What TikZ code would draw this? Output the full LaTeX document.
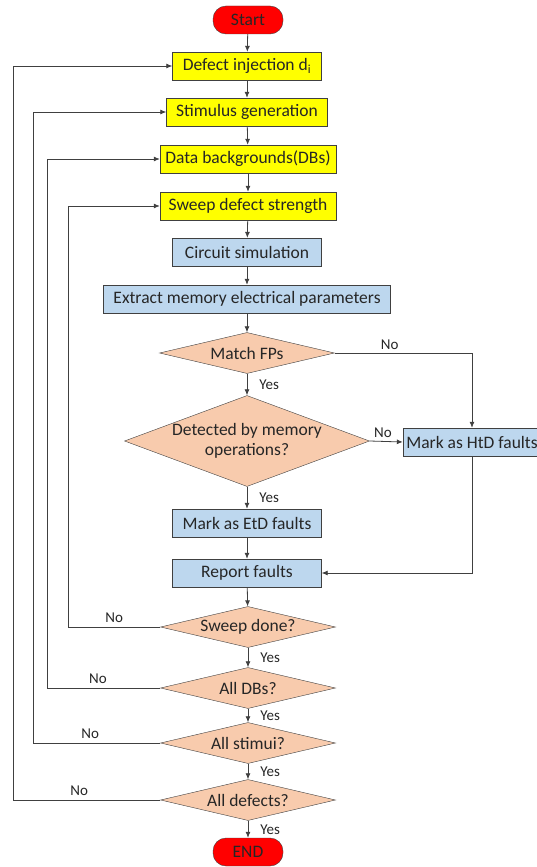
\documentclass[tikz,border=0pt]{standalone}
\usepackage{fontspec}
\setmainfont{Carlito}
\usetikzlibrary{shapes.geometric,arrows.meta}

\definecolor{termred}{HTML}{FF0000}
\definecolor{stepyellow}{HTML}{FFFF00}
\definecolor{stepblue}{HTML}{BDD7EE}
\definecolor{askorange}{HTML}{F8CBAD}
\definecolor{rim}{HTML}{404040}

\begin{document}
\begin{tikzpicture}
[
    x=1pt, y=-1pt,
    font=\fontsize{17.5}{20}\selectfont,
    every node/.style={align=center,inner sep=0pt,text=black!85},
    term/.style={draw=rim,fill=termred,rounded corners=13pt,minimum width=70pt,minimum height=28pt},
    setup/.style={draw=rim,fill=stepyellow,minimum height=28pt},
    work/.style={draw=rim,fill=stepblue,minimum height=28pt},
    ask/.style={draw=rim,fill=askorange,diamond,aspect=4.27,minimum width=175pt,minimum height=41pt},
    flow/.style={draw=rim,thick,-{Latex[length=6pt,width=5pt]}},
    tag/.style={font=\fontsize{15}{17}\selectfont}
  ]
  \useasboundingbox (0,0) rectangle (537,867);

  % the four set-up steps
  \node[term]  (start)  at (248,20)  {Start};
  \node[setup,minimum width=149pt] (defect) at (247,66)  {Defect injection d\textsubscript{i}};
  \node[setup,minimum width=161pt] (stim)   at (247,112) {Stimulus generation};
  \node[setup,minimum width=176pt] (dbs)    at (248,159) {Data backgrounds(DBs)};
  \node[setup,minimum width=176pt] (sweep)  at (248,206) {Sweep defect strength};

  % simulation and classification
  \node[work,minimum width=149pt] (sim)     at (247,252) {Circuit simulation};
  \node[work,minimum width=287pt] (extract) at (247,299) {Extract memory electrical parameters};
  \node[ask] (match) at (247,353) {Match FPs};
  \node[ask,aspect=2.7,minimum width=245pt,minimum height=91pt] (detect) at (247,441) {Detected by memory\\operations?};
  \node[work,minimum width=138pt] (htd)  at (472,442) {Mark as HtD faults};
  \node[work,minimum width=149pt] (etd)  at (247,523) {Mark as EtD faults};
  \node[work,minimum width=149pt] (report) at (247,573) {Report faults};

  % loop checks
  \node[ask] (sdone)  at (248,627) {Sweep done?};
  \node[ask] (alldb)  at (248,688) {All DBs?};
  \node[ask] (allst)  at (248,743) {All stimui?};
  \node[ask] (alldf)  at (248,800) {All defects?};
  \node[term] (finish) at (248,852) {END};

  % main line
  \draw[flow] (start) -- (defect);
  \draw[flow] (defect) -- (stim);
  \draw[flow] (stim) -- (dbs);
  \draw[flow] (dbs) -- (sweep);
  \draw[flow] (sweep) -- (sim);
  \draw[flow] (sim) -- (extract);
  \draw[flow] (extract) -- (match);
  \draw[flow] (match) -- node[tag,right=12pt] {Yes} (detect);
  \draw[flow] (detect) -- node[tag,right=12pt] {Yes} (etd);
  \draw[flow] (etd) -- (report);
  \draw[flow] (report) -- (sdone);
  \draw[flow] (sdone) -- node[tag,right=12pt] {Yes} (alldb);
  \draw[flow] (alldb) -- node[tag,right=12pt] {Yes} (allst);
  \draw[flow] (allst) -- node[tag,right=12pt] {Yes} (alldf);
  \draw[flow] (alldf) -- node[tag,right=12pt] {Yes} (finish);

  % HtD branch
  \draw[flow] (match.east) -- node[tag,above=3pt,pos=0.4] {No} (match.east -| htd.north) -- (htd.north);
  \draw[flow] (detect.east) -- node[tag,above=3pt,pos=0.4] {No} (htd.west);
  \draw[flow] (htd.south) |- (report.east);

  % loop backs
  \draw[flow] (sdone.west) -- node[tag,above=4pt] {No} (68,627) |- (sweep.west);
  \draw[flow] (alldb.west) -- node[tag,above=4pt,pos=0.55] {No} (47,688) |- (dbs.west);
  \draw[flow] (allst.west) -- node[tag,above=4pt,pos=0.55] {No} (33,743) |- (stim.west);
  \draw[flow] (alldf.west) -- node[tag,above=4pt,pos=0.55] {No} (13,800) |- (defect.west);
\end{tikzpicture}
\end{document}
